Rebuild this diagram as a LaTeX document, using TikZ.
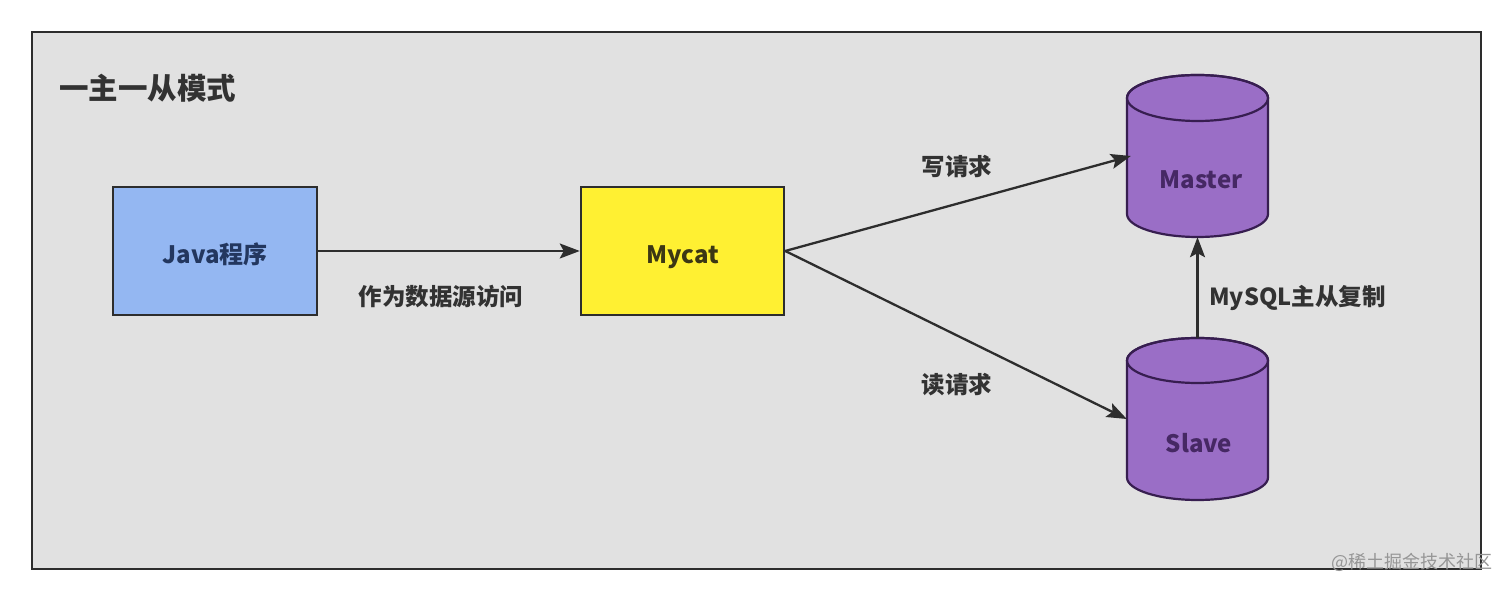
\documentclass[tikz,border=0pt]{standalone}
\usepackage{fontspec}
\setmainfont{Noto Sans CJK SC}
\usetikzlibrary{arrows.meta}
\definecolor{panelgray}{RGB}{225,225,225}
\definecolor{edgegray}{RGB}{45,45,45}
\definecolor{javablue}{RGB}{148,183,242}
\definecolor{javatext}{RGB}{35,55,95}
\definecolor{mycatyellow}{RGB}{255,240,50}
\definecolor{mycattext}{RGB}{60,55,20}
\definecolor{dbpurple}{RGB}{154,110,198}
\definecolor{dbedge}{RGB}{55,30,80}
\definecolor{dbtext}{RGB}{70,40,100}
\definecolor{labeltext}{RGB}{50,50,50}
\definecolor{wmtext}{RGB}{150,150,150}
\tikzset{
  boxnode/.style={draw=edgegray, line width=2.5pt, minimum width=203pt, minimum height=128pt, inner sep=0pt, text height=26pt, text depth=0pt, font=\fontsize{24}{28}\selectfont\bfseries},
  dbframe/.style={minimum width=141pt, minimum height=162pt, inner sep=0pt},
  dbshape/.style={draw=dbedge, fill=dbpurple, line width=2.2pt},
  dblabel/.style={font=\fontsize{24}{28}\selectfont\bfseries, text=dbtext, inner sep=0pt},
  edgelabel/.style={font=\fontsize{23.5}{27}\selectfont\bfseries, text=labeltext, inner sep=0pt},
  conn/.style={draw=edgegray, line width=2.3pt, -{Stealth[length=20pt,width=15pt,inset=4pt]}}
}
\begin{document}
\begin{tikzpicture}[x=1pt,y=1pt]
\useasboundingbox (0,0) rectangle (1512,591);
\fill[white] (0,0) rectangle (1512,591);
% panel
\draw[draw=edgegray, fill=panelgray, line width=2.5pt] (32,22) rectangle (1481,559);
\node[anchor=west, font=\fontsize{29.5}{34}\selectfont\bfseries, text=labeltext, inner sep=0pt] (title) at (59,503) {一主一从模式};
% boxes
\node[boxnode, fill=javablue, text=javatext, minimum width=204pt] (java) at (215,340) {Java程序};
\node[boxnode, fill=mycatyellow, text=mycattext] (mycat) at (682.5,340) {Mycat};
% master cylinder
\node[dbframe] (master) at (1197.5,435) {};
\path[dbshape] (1127,493) -- (1127,377) arc[start angle=180, end angle=360, x radius=70.5pt, y radius=23pt] -- (1268,493) arc[start angle=0, end angle=180, x radius=70.5pt, y radius=23pt] -- cycle;
\draw[dbedge, line width=2.2pt] (1197.5,493) ellipse[x radius=70.5pt, y radius=23pt];
\node[dblabel] (mastertxt) at (1201,411) {Master};
% slave cylinder
\node[dbframe] (slave) at (1197.5,172) {};
\path[dbshape] (1127,230.5) -- (1127,113.5) arc[start angle=180, end angle=360, x radius=70.5pt, y radius=22.5pt] -- (1268,230.5) arc[start angle=0, end angle=180, x radius=70.5pt, y radius=22.5pt] -- cycle;
\draw[dbedge, line width=2.2pt] (1197.5,230.5) ellipse[x radius=70.5pt, y radius=22.5pt];
\node[dblabel] (slavetxt) at (1199,148) {Slave};
% connectors
\draw[conn] (java.east) -- (mycat.west);
\draw[conn] (mycat.east) -- ([xshift=4pt]master.west);
\draw[conn] (mycat.east) -- (slave.west);
\draw[conn] (slave.north) -- (master.south);
% labels
\node[edgelabel] (l1) at (441,294) {作为数据源访问};
\node[edgelabel] (l2) at (957,424) {写请求};
\node[edgelabel] (l3) at (957,206) {读请求};
\node[edgelabel, anchor=west] (l4) at (1209,293) {MySQL主从复制};
\node[anchor=east, font=\fontsize{18}{21}\selectfont, text=wmtext, inner sep=0pt] (wm) at (1493,29) {@稀土掘金技术社区};
\end{tikzpicture}
\end{document}
